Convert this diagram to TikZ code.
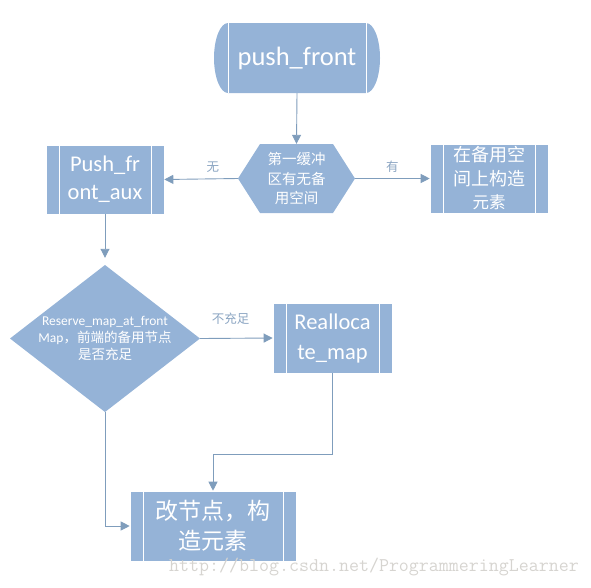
\documentclass[tikz,border=0pt]{standalone}
\usepackage{fontspec}
\setmainfont{Carlito}
\newfontfamily\cjk{Noto Sans CJK SC}
\usetikzlibrary{arrows.meta,calc}
\definecolor{boxblue}{HTML}{95B3D7}
\definecolor{linkblue}{HTML}{7F9DBC}
\definecolor{lblblue}{HTML}{8BA5C2}
\definecolor{wmgray}{HTML}{D6D4D0}
\begin{document}
\begin{tikzpicture}[x=1pt,y=-1pt,
  procbox/.style={fill=boxblue, draw=white, line width=0.6pt, text=white, align=center, inner sep=0pt,
    path picture={\draw[white,line width=1pt]
      ([xshift=13pt]path picture bounding box.north west) -- ([xshift=13pt]path picture bounding box.south west)
      ([xshift=-13pt]path picture bounding box.north east) -- ([xshift=-13pt]path picture bounding box.south east);}},
  hexbox/.style={text=white, align=center, inner sep=0pt,
    path picture={\fill[boxblue]
      (path picture bounding box.west) -- ([xshift=22pt]path picture bounding box.north west)
      -- ([xshift=-22pt]path picture bounding box.north east) -- (path picture bounding box.east)
      -- ([xshift=-22pt]path picture bounding box.south east) -- ([xshift=22pt]path picture bounding box.south west) -- cycle;}},
  diabox/.style={text=white, align=center, inner sep=0pt,
    path picture={\fill[boxblue]
      (path picture bounding box.west) -- (path picture bounding box.north)
      -- (path picture bounding box.east) -- (path picture bounding box.south) -- cycle;}},
  arr/.style={draw=linkblue, line width=0.9pt, -{Triangle[length=9pt,width=9pt]}},
  link/.style={draw=linkblue, line width=0.9pt},
  lbl/.style={text=lblblue, font=\cjk\fontsize{12.5}{14}\selectfont, inner sep=0pt}
]
\useasboundingbox (0,0) rectangle (591,587);

% terminal shape
\fill[boxblue] (228,23) -- (366,23) arc[start angle=90,end angle=-90,x radius=14pt,y radius=35pt]
  -- (228,93) arc[start angle=270,end angle=90,x radius=14pt,y radius=35pt] -- cycle;
\draw[white,line width=1pt] (228,23) -- (228,93) (366,23) -- (366,93);
\node[text=white, inner sep=0pt, minimum width=138pt, minimum height=70pt,
  font=\fontsize{26.5}{30}\selectfont] (pf) at (297,58) {push\_front};

% hexagon
\node[hexbox, minimum width=117pt, minimum height=69pt, font=\cjk\fontsize{14.5}{19.5}\selectfont]
  (hx) at (296.5,178.5) {第一缓冲\\区有无备\\用空间};

% side boxes
\node[procbox, minimum width=118pt, minimum height=69pt, font=\fontsize{22.5}{28}\selectfont]
  (aux) at (105,179.5) {Push\_fr\\ont\_aux};
\node[procbox, minimum width=118pt, minimum height=69pt, font=\cjk\fontsize{18}{23.5}\selectfont]
  (rb) at (489,178.5) {在备用空\\间上构造\\{\fontsize{16.5}{20}\selectfont 元素}};

% diamond
\node[diabox, minimum width=190pt, minimum height=147pt, font=\fontsize{13.5}{17}\selectfont]
  (dm) at (105,338.5) {Reserve\_map\_at\_front\\Map{\cjk\fontsize{13.5}{17}\selectfont ，前端的备用节点}\\{\cjk\fontsize{13.5}{17}\selectfont 是否充足}};

% reallocate
\node[procbox, minimum width=119pt, minimum height=70pt, font=\fontsize{22.5}{30}\selectfont]
  (ra) at (332.5,338) {Realloca\\te\_map};

% bottom box
\node[procbox, minimum width=166pt, minimum height=70pt, font=\cjk\fontsize{23}{30}\selectfont]
  (bb) at (213,526) {改节点，构\\造元素};

% connectors
\draw[arr] (pf.south) -- (hx.north);
\draw[arr] (hx.west) -- node[lbl, pos=0.34, above=6pt] (l1) {无} (aux.east);
\draw[arr] (hx.east) -- node[lbl, pos=0.5, above=6pt] (l2) {有} (rb.west);
\draw[arr] (aux.south) -- ([yshift=7pt]dm.north);
\draw[arr] (dm.east) -- node[lbl, pos=0.42, above=13pt] (l3) {不充足} (ra.west);
\coordinate (k1) at (332.5,454);
\draw[arr] (ra.south) -- (k1) -| (bb.north);
\draw[arr] (dm.south) |- (bb.west);

% watermark
\node[anchor=west, inner sep=0pt, text=wmgray, font=\ttfamily\fontsize{19.4}{20}\selectfont]
  (wm) at (169,567) {http://blog.csdn.net/ProgrammeringLearner};
\end{tikzpicture}
\end{document}
